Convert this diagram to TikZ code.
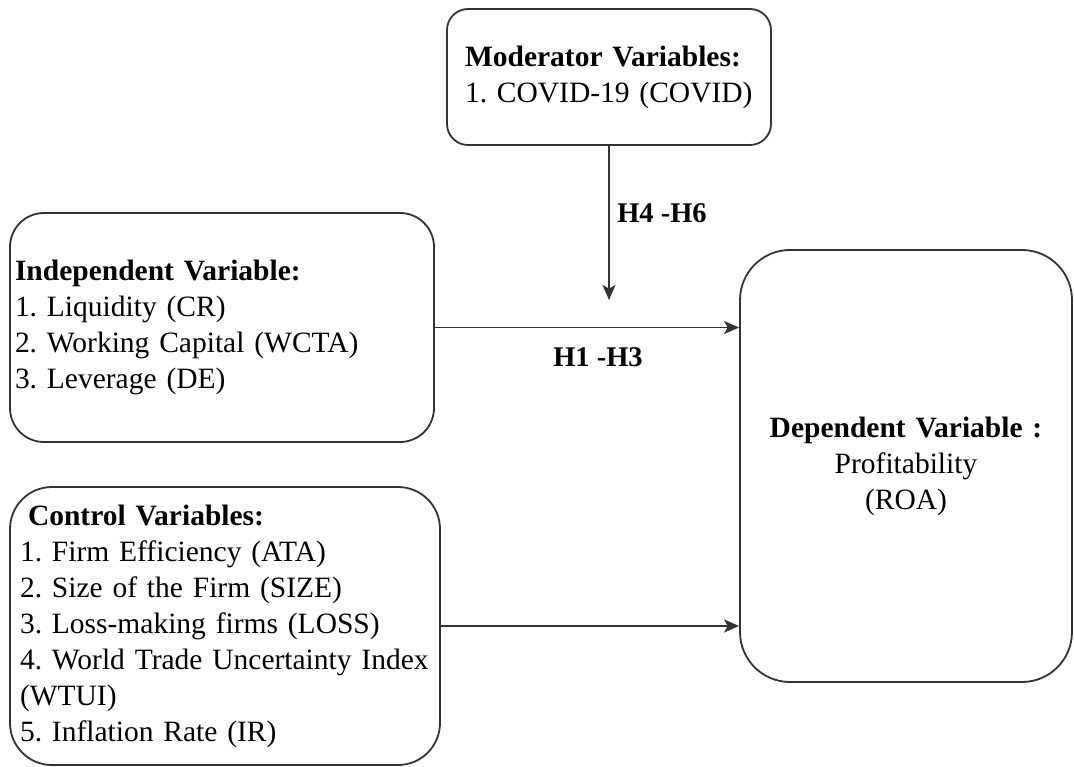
\documentclass[tikz,border=0pt]{standalone}
\usepackage{fontspec}
\setmainfont{Liberation Serif}
\usetikzlibrary{arrows.meta}
\begin{document}
\frenchspacing
\begin{tikzpicture}[x=1pt,y=-1pt,
  box/.style={draw=black!80, line width=1.8pt, fill=white, inner ysep=0pt,
    font=\fontsize{29.5}{36}\selectfont\frenchspacing},
  conn/.style={draw=black!80, line width=1.8pt,
    -{Stealth[length=15pt,width=13pt,inset=3.5pt]}},
  hlab/.style={font=\fontsize{28.5}{34}\selectfont\bfseries, inner sep=0pt}]
\useasboundingbox (0,0) rectangle (1074,767);
\node[box, rounded corners=21pt, minimum width=324pt, minimum height=136pt,
  text width=288pt, inner xsep=18pt, align=left] (mod) at (609,77)
  {\textbf{Moderator Variables:}\\\mbox{1. COVID-19 (COVID)}};
\node[box, rounded corners=34pt, minimum width=424pt, minimum height=229pt,
  text width=414pt, inner xsep=5pt, align=left] (ind) at (222,327.5)
  {\textbf{Independent Variable:}\\1. Liquidity (CR)\\2. Working Capital (WCTA)\\3. Leverage (DE)};
\node[box, rounded corners=42pt, minimum width=430pt, minimum height=278pt,
  text width=410pt, inner xsep=10pt, align=left] (ctrl) at (225,626)
  {\hspace*{8pt}\textbf{Control Variables:}\\1. Firm Efficiency (ATA)\\2. Size of the Firm (SIZE)\\3. Loss-making firms (LOSS)\\\mbox{4. World Trade Uncertainty Index}\\(WTUI)\\5. Inflation Rate (IR)};
\node[box, rounded corners=50pt, minimum width=332pt, minimum height=432pt,
  text width=300pt, inner xsep=16pt, align=center] (dep) at (906,466)
  {\textbf{Dependent Variable :}\\Profitability\\(ROA)};
\coordinate (modtip) at (609,300);
\draw[conn] (mod.south) -- (modtip);
\draw[conn] (ind.east) -- (dep.west |- ind.east);
\draw[conn] (ctrl.east) -- (dep.west |- ctrl.east);
\node[hlab] (h46) at (662,213) {H4 -H6};
\node[hlab] (h13) at (598,357) {H1 -H3};
\end{tikzpicture}
\end{document}
